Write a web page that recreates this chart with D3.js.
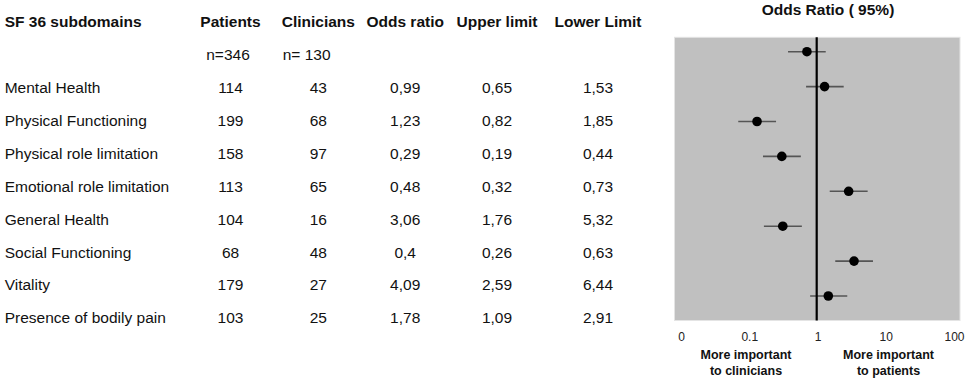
<!DOCTYPE html>
<html><head><meta charset="utf-8">
<script src="https://cdn.jsdelivr.net/npm/d3@7"></script>
<style>body{margin:0;background:#fff}svg{display:block;font-family:"Liberation Sans",Arial,sans-serif}</style>
</head><body><svg id="c" width="965" height="379"></svg>
<script>
// ---- data ----
const headers = ["SF 36 subdomains","Patients","Clinicians","Odds ratio","Upper limit","Lower Limit"];
const nRow = ["n=346","n= 130"];
const subdomains = ["Mental Health","Physical Functioning","Physical role limitation","Emotional role limitation","General Health","Social Functioning","Vitality","Presence of bodily pain"];
const patients = [114,199,158,113,104,68,179,103];
const clinicians = [43,68,97,65,16,48,27,25];
const oddsText = ["0,99","1,23","0,29","0,48","3,06","0,4","4,09","1,78"];
const upperText = ["0,65","0,82","0,19","0,32","1,76","0,26","2,59","1,09"];
const lowerText = ["1,53","1,85","0,44","0,73","5,32","0,63","6,44","2,91"];
// plotted values
const plotOR = [0.70,1.27,0.13,0.30,2.86,0.31,3.43,1.44];
const plotLo = [0.37,0.68,0.069,0.159,1.51,0.164,1.82,0.78];
const plotHi = [1.32,2.42,0.247,0.57,5.43,0.59,6.5,2.73];
const xTicks = [0.01,0.1,1,10,100];
const xTickLabels = ["0","0.1","1","10","100"];
const title = "Odds Ratio ( 95%)";
const leftNote = ["More important","to clinicians"];
const rightNote = ["More important","to patients"];

const svg = d3.select("#c");
const FS = 15.5;

// ---- table ----
const rowKeys = ["h","n"].concat(subdomains);
const yRow = d3.scalePoint().domain(rowKeys).range([27.3,323.3]);
const colX = [4.7,230.5,318.3,405.2,497,598];
const hdr = svg.append("g");
headers.forEach((h,i)=>{
  hdr.append("text").attr("x",colX[i]).attr("y",yRow("h"))
    .attr("text-anchor",i===0?"start":"middle")
    .attr("font-weight","bold").attr("font-size",FS).attr("fill","#111").text(h);
});
svg.append("text").attr("x",228).attr("y",yRow("n")).attr("text-anchor","middle").attr("font-size",FS).attr("fill","#111").text(nRow[0]);
svg.append("text").attr("x",282.7).attr("y",yRow("n")).attr("text-anchor","start").attr("font-size",FS).attr("fill","#111").text(nRow[1]);
const cols = [subdomains,patients,clinicians,oddsText,upperText,lowerText];
subdomains.forEach((s,r)=>{
  cols.forEach((c,i)=>{
    svg.append("text").attr("x",colX[i]).attr("y",yRow(s))
      .attr("text-anchor",i===0?"start":"middle")
      .attr("font-size",FS).attr("fill","#111").text(c[r]);
  });
});

// ---- forest plot ----
const x = d3.scaleLog().domain([0.01,100]).range([681,954]);
const y = d3.scalePoint().domain(subdomains).range([51.7,296]);
const plotL = 674.5, plotR = 960, plotT = 37.3, plotB = 320.5;
svg.append("rect").attr("x",plotL).attr("y",plotT).attr("width",plotR-plotL).attr("height",plotB-plotT)
  .attr("fill","#c0c0c0").attr("stroke","#e4e4e4").attr("stroke-width",1);
svg.append("text").attr("x",828).attr("y",14.5).attr("text-anchor","middle")
  .attr("font-weight","bold").attr("font-size",FS).attr("fill","#111").text(title);

const g = svg.append("g");
g.selectAll("line.ci").data(subdomains).join("line").attr("class","ci")
  .attr("x1",(d,i)=>x(plotLo[i])).attr("x2",(d,i)=>x(plotHi[i]))
  .attr("y1",d=>y(d)).attr("y2",d=>y(d))
  .attr("stroke","#555").attr("stroke-width",1.6);
g.append("line").attr("x1",x(1)-0.8).attr("x2",x(1)-0.8).attr("y1",plotT).attr("y2",plotB)
  .attr("stroke","#000").attr("stroke-width",2.2);
g.selectAll("circle").data(subdomains).join("circle")
  .attr("cx",(d,i)=>x(plotOR[i])).attr("cy",d=>y(d)).attr("r",4.8).attr("fill","#000");

// axis labels
const ax = d3.axisBottom(x).tickValues(xTicks).tickFormat((d,i)=>xTickLabels[i]).tickSize(0).tickPadding(0);
const axG = svg.append("g").attr("transform","translate(0,341)").call(ax);
axG.select(".domain").remove();
axG.selectAll("text").attr("font-size",12).attr("fill","#222").attr("dy",0)
  .style("font-family","'Liberation Sans',Arial,sans-serif");

[[746,leftNote],[888.5,rightNote]].forEach(([cx,lines])=>{
  lines.forEach((t,k)=>{
    svg.append("text").attr("x",cx).attr("y",358.5+k*16.5).attr("text-anchor","middle")
      .attr("font-weight","bold").attr("font-size",12.5).attr("fill","#111").text(t);
  });
});
</script></body></html>
